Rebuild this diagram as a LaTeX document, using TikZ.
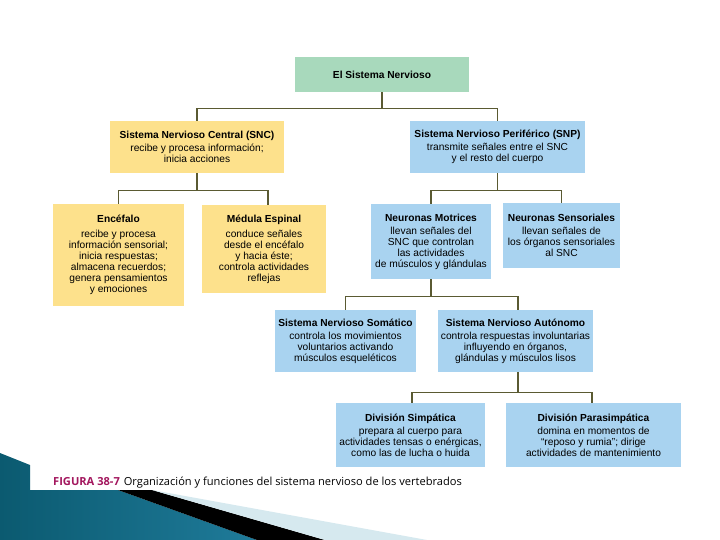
\documentclass[tikz,border=0pt]{standalone}
\usepackage{fontspec}
\setmainfont{Liberation Sans}
\newfontfamily\capfont{Open Sans}
\definecolor{gbox}{HTML}{A8D9BC}
\definecolor{ybox}{HTML}{FDE18C}
\definecolor{bbox}{HTML}{A9D3F0}
\definecolor{linec}{HTML}{5A5A32}
\definecolor{figmag}{HTML}{A3175E}
\definecolor{tealA}{HTML}{0B5A70}
\definecolor{tealB}{HTML}{4DB0D0}
\definecolor{tealC}{HTML}{1F7B9A}
\definecolor{lblue}{HTML}{D6E9EF}
\begin{document}
\begin{tikzpicture}[x=1pt,y=-1pt,
  box/.style={align=center, inner sep=0pt, font=\fontsize{10.2}{11}\selectfont},
  gb/.style={box, fill=gbox},
  yb/.style={box, fill=ybox},
  bb/.style={box, fill=bbox},
  conn/.style={draw=linec, line width=1.1pt}]
\useasboundingbox (0,0) rectangle (720,540);
\fill[white] (0,0) rectangle (720,540);

% decoration bottom-left
\shade[left color=tealA, middle color=tealB, right color=tealC]
  (0,453) -- (30,465) -- (30,490) -- (118,490) -- (257,540) -- (0,540) -- cycle;
\fill[black] (118,490) -- (152,490) -- (325,540) -- (257,540) -- cycle;
\fill[lblue] (152,490) -- (427,540) -- (325,540) -- cycle;

% boxes
\node[gb, minimum width=174pt, minimum height=35pt] (top) at (382,74.5)
  {\textbf{El Sistema Nervioso}};
\node[yb, minimum width=174pt, minimum height=52pt] (snc) at (197,147)
  {\textbf{Sistema Nervioso Central (SNC)}\\[2pt]recibe y procesa información;\\inicia acciones};
\node[bb, minimum width=175pt, minimum height=52pt] (snp) at (497.5,147)
  {\textbf{Sistema Nervioso Periférico (SNP)}\\[2pt]transmite señales entre el SNC\\y el resto del cuerpo};
\node[yb, minimum width=131pt, minimum height=102pt] (enc) at (118.5,255)
  {\textbf{Encéfalo}\\[4pt]recibe y procesa\\información sensorial;\\inicia respuestas;\\almacena recuerdos;\\genera pensamientos\\y emociones};
\node[yb, minimum width=124pt, minimum height=88pt] (med) at (264,249)
  {\textbf{Médula Espinal}\\[4pt]conduce señales\\desde el encéfalo\\y hacia éste;\\controla actividades\\reflejas};
\node[bb, minimum width=120pt, minimum height=75pt] (nm) at (431,241.5)
  {\textbf{Neuronas Motrices}\\[2pt]llevan señales del\\SNC que controlan\\las actividades\\de músculos y glándulas};
\node[bb, minimum width=117pt, minimum height=65pt] (ns) at (561.5,235.5)
  {\textbf{Neuronas Sensoriales}\\[2pt]llevan señales de\\los órganos sensoriales\\al SNC};
\node[bb, minimum width=141pt, minimum height=62pt] (som) at (345.5,341)
  {\textbf{Sistema Nervioso Somático}\\[2pt]controla los movimientos\\voluntarios activando\\músculos esqueléticos};
\node[bb, minimum width=155pt, minimum height=62pt] (aut) at (515.5,341)
  {\textbf{Sistema Nervioso Autónomo}\\[2pt]controla respuestas involuntarias\\influyendo en órganos,\\glándulas y músculos lisos};
\node[bb, minimum width=149pt, minimum height=64pt] (sim) at (410.5,435)
  {\textbf{División Simpática}\\[2pt]prepara al cuerpo para\\actividades tensas o enérgicas,\\como las de lucha o huida};
\node[bb, minimum width=175pt, minimum height=64pt] (par) at (593.5,435)
  {\textbf{División Parasimpática}\\[2pt]domina en momentos de\\“reposo y rumia”; dirige\\actividades de mantenimiento};

% connectors
\draw[conn] (top.south) -- ++(0,16.5) -| (snc.north);
\draw[conn] (top.south) -- ++(0,16.5) -| (snp.north);
\draw[conn] (snc.south) -- ++(0,17) -| (enc.north);
\draw[conn] (snc.south) -- ++(0,17) -| ([xshift=4pt]med.north);
\draw[conn] (snp.south) -- ++(0,17) -| (nm.north);
\draw[conn] (snp.south) -- ++(0,17) -| (ns.north);
\draw[conn] (nm.south) -- ++(0,17) -| (som.north);
\draw[conn] (nm.south) -- ++(0,17) -| ([xshift=2.5pt]aut.north);
\draw[conn] ([xshift=2.5pt]aut.south) -- ++(0,20) -| ([xshift=1.5pt]sim.north);
\draw[conn] ([xshift=2.5pt]aut.south) -- ++(0,20) -| ([xshift=-1.5pt]par.north);

% caption
\node[anchor=base west, inner sep=0pt, font=\capfont\fontsize{11.1}{12}\selectfont] (cap) at (53,485)
  {\textcolor{figmag}{\textbf{FIGURA 38-7}}\hspace{4pt}Organización y funciones del sistema nervioso de los vertebrados};
\end{tikzpicture}
\end{document}
